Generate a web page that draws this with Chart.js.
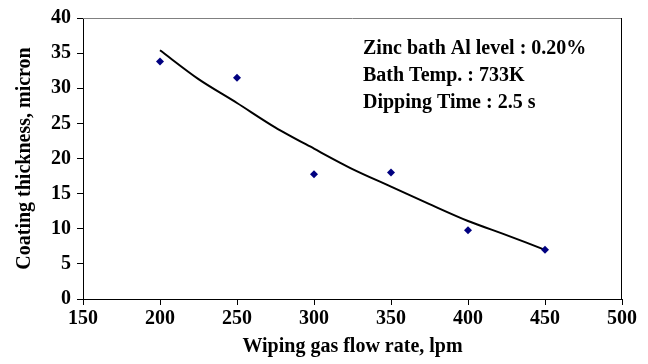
<!DOCTYPE html>
<html>
<head>
<meta charset="utf-8">
<script src="https://cdn.jsdelivr.net/npm/chart.js@4.4.1/dist/chart.umd.min.js"></script>
<style>
  html, body { margin: 0; padding: 0; background: #fff; }
  #wrap { width: 648px; height: 364px; position: relative; }
</style>
</head>
<body>
<div id="wrap"><canvas id="coatChart"></canvas></div>
<script>
// Measured points
const flowRates = [200, 250, 300, 350, 400, 450];
const thickness = [33.8, 31.5, 17.75, 18.0, 9.8, 7.0];

// Trend curve
const trendX = [200, 225, 250, 275, 300, 325, 350, 375, 400, 425, 450];
const trendY = [35.4, 31.3, 27.9, 24.4, 21.4, 18.5, 16.0, 13.5, 11.1, 9.1, 7.0];

const xTicks = [150, 200, 250, 300, 350, 400, 450, 500];
const yTicks = [0, 5, 10, 15, 20, 25, 30, 35, 40];

const noteLines = ['Zinc bath Al level : 0.20%', 'Bath Temp. : 733K', 'Dipping Time : 2.5 s'];

const serif = '"Liberation Serif", "Times New Roman", serif';

// Frame lines + text box
const framePlugin = {
    id: 'frame',
    afterDraw(chart) {
        const { ctx, chartArea: a } = chart;
        ctx.save();
        ctx.lineWidth = 1;
        ctx.strokeStyle = '#808080';
        ctx.beginPath();
        ctx.moveTo(a.left, a.top + 0.5);
        ctx.lineTo(a.right, a.top + 0.5);
        ctx.stroke();
        ctx.strokeStyle = '#000';
        ctx.beginPath();
        ctx.moveTo(a.right - 0.5, a.top);
        ctx.lineTo(a.right - 0.5, a.bottom);
        ctx.stroke();

        ctx.fillStyle = '#000';
        ctx.font = 'bold 20px ' + serif;
        ctx.textBaseline = 'middle';
        ctx.textAlign = 'left';
        noteLines.forEach((t, i) => {
            ctx.fillText(t, a.left + 280, a.top + 31 + i * 27);
        });
        ctx.restore();
    }
};

const ctx = document.getElementById('coatChart').getContext('2d');
new Chart(ctx, {
    type: 'scatter',
    data: {
        datasets: [{
            label: 'Measured',
            data: flowRates.map((x, i) => ({ x: x, y: thickness[i] })),
            pointStyle: 'rectRot',
            pointRadius: 4,
            backgroundColor: '#000080',
            borderColor: '#000080',
            borderWidth: 0,
            showLine: false
        }, {
            label: 'Trend',
            data: trendX.map((x, i) => ({ x: x, y: trendY[i] })),
            showLine: true,
            borderColor: '#000',
            borderWidth: 2,
            pointRadius: 0,
            tension: 0.3,
            fill: false
        }]
    },
    options: {
        responsive: true,
        maintainAspectRatio: false,
        animation: false,
        layout: { padding: { left: 0, right: 26, top: 18, bottom: 0 } },
        plugins: {
            legend: { display: false },
            tooltip: { enabled: false }
        },
        scales: {
            x: {
                type: 'linear',
                min: 150,
                max: 500,
                afterBuildTicks: (s) => { s.ticks = xTicks.map(v => ({ value: v })); },
                afterFit: (s) => { s.height = 65; },
                grid: { drawOnChartArea: false, tickLength: 6, color: '#000', tickColor: '#000' },
                border: { display: true, color: '#000', width: 1 },
                ticks: { color: '#000', padding: 2, font: { family: serif, size: 20, weight: 700 } },
                title: {
                    display: true,
                    text: 'Wiping gas flow rate, lpm',
                    color: '#000',
                    font: { family: serif, size: 20, weight: 700 },
                    padding: { top: 4, bottom: 5 }
                }
            },
            y: {
                type: 'linear',
                min: 0,
                max: 40,
                afterBuildTicks: (s) => { s.ticks = yTicks.map(v => ({ value: v })); },
                afterFit: (s) => { s.width = 83; },
                grid: { drawOnChartArea: false, tickLength: 6, color: '#000', tickColor: '#000' },
                border: { display: true, color: '#000', width: 1 },
                ticks: { color: '#000', padding: 6, font: { family: serif, size: 20, weight: 700 } },
                title: {
                    display: true,
                    text: 'Coating thickness, micron',
                    color: '#000',
                    font: { family: serif, size: 20, weight: 700 },
                    padding: { top: 13, bottom: 0 }
                }
            }
        }
    },
    plugins: [framePlugin]
});
</script>
</body>
</html>
